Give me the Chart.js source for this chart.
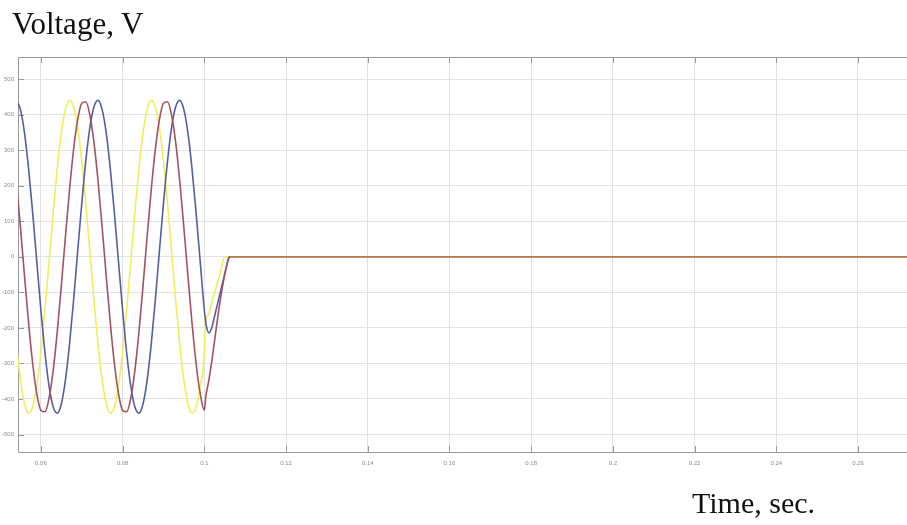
<!DOCTYPE html>
<html>
<head>
<meta charset="utf-8">
<script src="https://cdn.jsdelivr.net/npm/chart.js@4/dist/chart.umd.min.js"></script>
<style>
  body { margin: 0; background: #fff; }
  #wrap { position: relative; width: 907px; height: 525px; overflow: hidden; }
  #chart { position: absolute; left: 0; top: 0; }
  .lbl { position: absolute; font-family: "Liberation Serif", "Times New Roman", serif; font-size: 30px; line-height: 30px; color: #111; white-space: nowrap; }
</style>
</head>
<body>
<div id="wrap">
  <canvas id="chart" width="907" height="525"></canvas>
  <div class="lbl" style="left:12px; top:9px; font-size:31px;">Voltage, V</div>
  <div class="lbl" style="left:692px; top:488px;">Time, sec.</div>
</div>
<script>
// sample times before the breaker opens (s)
const timeSec = [0.054, 0.055, 0.056, 0.057, 0.058, 0.059, 0.060, 0.061, 0.062, 0.063,
                 0.064, 0.065, 0.066, 0.067, 0.068, 0.069, 0.070, 0.071, 0.072, 0.073,
                 0.074, 0.075, 0.076, 0.077, 0.078, 0.079, 0.080, 0.081, 0.082, 0.083,
                 0.084, 0.085, 0.086, 0.087, 0.088, 0.089, 0.090, 0.091, 0.092, 0.093,
                 0.094, 0.095, 0.096, 0.097, 0.098, 0.099, 0.100];

const yellowV = [-247, -348, -414, -440, -422, -364, -270, -149, -14, 123,
                 247, 348, 414, 440, 422, 364, 270, 149, 14, -123,
                 -247, -348, -414, -440, -422, -364, -270, -149, -14, 123,
                 247, 348, 414, 440, 422, 364, 270, 149, 14, -123,
                 -247, -348, -414, -440, -422, -364, -270];
const redV = [212, 82, -55, -187, -301, -385, -432, -436, -398, -321,
              -212, -82, 55, 187, 301, 385, 432, 436, 398, 321,
              212, 82, -55, -187, -301, -385, -432, -436, -398, -321,
              -212, -82, 55, 187, 301, 385, 432, 436, 398, 321,
              212, 82, -55, -187, -301, -385, -432];
const blueV = [440, 414, 348, 247, 123, -14, -149, -270, -364, -422,
               -440, -414, -348, -247, -123, 14, 149, 270, 364, 422,
               440, 414, 348, 247, 123, -14, -149, -270, -364, -422,
               -440, -414, -348, -247, -123, 14, 149, 270, 364, 422,
               440, 414, 348, 247, 123, -14, -149];

// after the fault: decay to zero, then flat
const yellowTailT = [0.1002, 0.101, 0.102, 0.103, 0.104, 0.105, 0.272];
const yellowTailV = [-195, -163, -122, -82, -41, 0, 0];
const redTailT = [0.1004, 0.101, 0.102, 0.103, 0.104, 0.105, 0.1058, 0.1063, 0.272];
const redTailV = [-390, -355, -280, -195, -115, -50, -12, 0, 0];
const blueTailT = [0.1006, 0.1012, 0.1018, 0.1025, 0.1035, 0.1045, 0.1055, 0.1061, 0.272];
const blueTailV = [-200, -214, -200, -168, -120, -72, -25, 0, 0];

const xTicks = [0.06, 0.08, 0.1, 0.12, 0.14, 0.16, 0.18, 0.2, 0.22, 0.24, 0.26];
const yTicks = [500, 400, 300, 200, 100, 0, -100, -200, -300, -400, -500];

function series(t, v, tailT, tailV) {
  const pts = t.map((x, i) => ({ x: x, y: v[i] }));
  tailT.forEach((x, i) => pts.push({ x: x, y: tailV[i] }));
  return pts;
}

const flatColor = '#c47a44';

// frame (left, top, bottom) + inward tick marks, matlab style
const framePlugin = {
  id: 'frame',
  beforeDatasetsDraw(chart) {
    const { ctx, chartArea: a, scales } = chart;
    ctx.save();
    ctx.strokeStyle = '#9a9a9a';
    ctx.lineWidth = 1;
    ctx.beginPath();
    ctx.moveTo(a.right, a.top + 0.5); ctx.lineTo(a.left + 0.5, a.top + 0.5);
    ctx.lineTo(a.left + 0.5, a.bottom - 0.5); ctx.lineTo(a.right, a.bottom - 0.5);
    xTicks.forEach(v => {
      const px = Math.round(scales.x.getPixelForValue(v)) + 0.5;
      ctx.moveTo(px, a.bottom); ctx.lineTo(px, a.bottom - 7);
      ctx.moveTo(px, a.top); ctx.lineTo(px, a.top + 6);
    });
    yTicks.forEach(v => {
      const py = Math.round(scales.y.getPixelForValue(v)) + 0.5;
      ctx.moveTo(a.left, py); ctx.lineTo(a.left + 6, py);
    });
    ctx.stroke();
    ctx.restore();
  }
};

new Chart(document.getElementById('chart'), {
  type: 'line',
  data: {
    datasets: [
      {
        data: series(timeSec, redV, redTailT, redTailV),
        borderColor: '#a3525e',
        segment: { borderColor: c => (c.p0.parsed.y === 0 && c.p1.parsed.y === 0) ? flatColor : undefined }
      },
      { data: series(timeSec, blueV, blueTailT, blueTailV), borderColor: '#545ea3' },
      { data: series(timeSec, yellowV, yellowTailT, yellowTailV), borderColor: '#efef5c' }
    ]
  },
  options: {
    responsive: false,
    animation: false,
    datasets: {
      line: { borderWidth: 1.6, pointRadius: 0, cubicInterpolationMode: 'monotone', fill: false }
    },
    layout: { padding: { left: 0, right: 0, top: 57, bottom: 54 } },
    plugins: { legend: { display: false }, tooltip: { enabled: false } },
    scales: {
      x: {
        type: 'linear',
        min: 0.0544,
        max: 0.272,
        afterFit: s => { s.height = 18; },
        afterBuildTicks: s => { s.ticks = xTicks.map(v => ({ value: v })); },
        ticks: {
          padding: 7,
          color: '#8c8c8c',
          font: { family: 'Liberation Sans, Arial', size: 6 },
          maxRotation: 0,
          callback: v => String(Number(v.toFixed(2)))
        },
        grid: { color: '#e2e2e2', drawTicks: false },
        border: { display: false }
      },
      y: {
        type: 'linear',
        min: -552,
        max: 562,
        afterFit: s => { s.width = 18; },
        afterBuildTicks: s => { s.ticks = yTicks.map(v => ({ value: v })); },
        ticks: {
          padding: 4,
          color: '#8c8c8c',
          font: { family: 'Liberation Sans, Arial', size: 6 }
        },
        grid: { color: '#e2e2e2', drawTicks: false },
        border: { display: false }
      }
    }
  },
  plugins: [framePlugin]
});
</script>
</body>
</html>
